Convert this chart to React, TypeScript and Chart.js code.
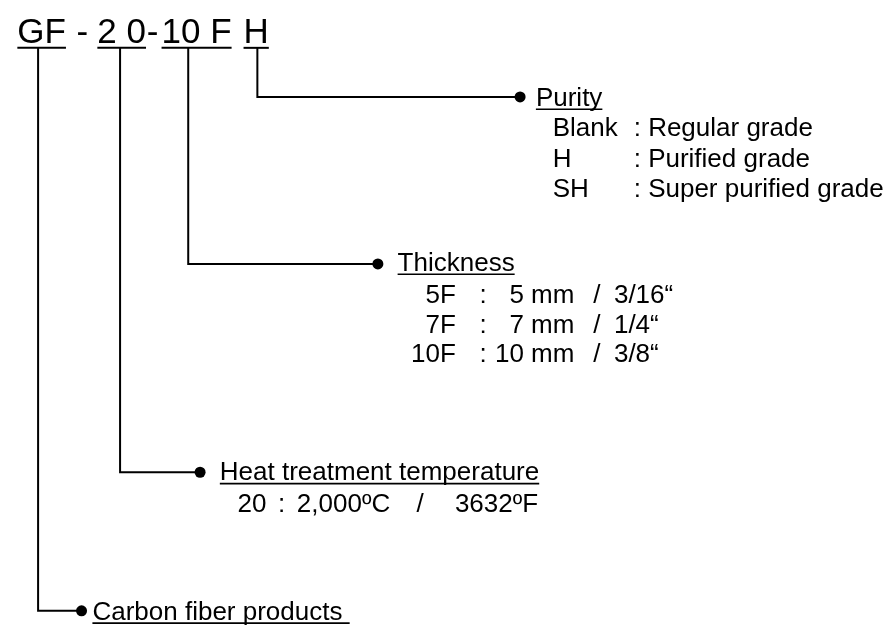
import React, { useEffect, useRef } from "react";
import { Chart, registerables } from "chart.js";

Chart.register(...registerables);

// ---- code string at the top ----
const codeText = ["GF", "-", "2 0", "-", "10 F", "H"];
const codeX = [12, 72, 93, 143, 158, 241];
const codeUnderlined = [true, false, true, false, true, true];
const codeBaseline = 38;
const stemTopY = 43;

// ---- branches (stem from code segment, elbow, dot, title) ----
const branchTitles = ["Purity", "Thickness", "Heat treatment temperature", "Carbon fiber products "];
const branchStemX = [255, 185, 116, 33];
const branchY = [93, 263, 475, 616];
const branchDotX = [521, 377, 197, 77];
const branchTextX = [537, 397, 217, 88];
const branchTextBaseline = [102, 270, 483, 625];

// ---- purity detail ----
const purityCodes = ["Blank", "H", "SH"];
const purityNames = [": Regular grade", ": Purified grade", ": Super purified grade"];
const purityBaselines = [133, 164, 195];

// ---- thickness detail ----
const thicknessCodes = ["5F", "7F", "10F"];
const thicknessMm = ["5 mm", "7 mm", "10 mm"];
const thicknessInch = ["3/16\u201C", "1/4\u201C", "3/8\u201C"];
const thicknessBaselines = [303, 333, 363];

// ---- heat treatment detail ----
const heatCodes = ["20"];
const heatCelsius = ["2,000\u00BAC"];
const heatFahrenheit = ["3632\u00BAF"];
const heatBaselines = [515];

const FONT = "'Liberation Sans', Arial, Helvetica, sans-serif";

type Txt = { t: string; x: number; y: number; size: number; u?: boolean; align?: CanvasTextAlign };

function buildTexts(): Txt[] {
  const out: Txt[] = [];
  codeText.forEach((t, i) => out.push({ t, x: codeX[i], y: codeBaseline, size: 35, u: codeUnderlined[i] }));
  branchTitles.forEach((t, i) =>
    out.push({ t, x: branchTextX[i], y: branchTextBaseline[i], size: 26, u: true })
  );
  purityCodes.forEach((t, i) => {
    out.push({ t, x: 554, y: purityBaselines[i], size: 26 });
    out.push({ t: purityNames[i], x: 636, y: purityBaselines[i], size: 26 });
  });
  thicknessCodes.forEach((t, i) => {
    out.push({ t, x: 456, y: thicknessBaselines[i], size: 26, align: "right" });
    out.push({ t: ":", x: 480, y: thicknessBaselines[i], size: 26 });
    out.push({ t: thicknessMm[i], x: 576, y: thicknessBaselines[i], size: 26, align: "right" });
    out.push({ t: "/", x: 595, y: thicknessBaselines[i], size: 26 });
    out.push({ t: thicknessInch[i], x: 616, y: thicknessBaselines[i], size: 26 });
  });
  heatCodes.forEach((t, i) => {
    out.push({ t, x: 235, y: heatBaselines[i], size: 26 });
    out.push({ t: ":", x: 276, y: heatBaselines[i], size: 26 });
    out.push({ t: heatCelsius[i], x: 295, y: heatBaselines[i], size: 26 });
    out.push({ t: "/", x: 416, y: heatBaselines[i], size: 26 });
    out.push({ t: heatFahrenheit[i], x: 455, y: heatBaselines[i], size: 26 });
  });
  return out;
}

const textPlugin = {
  id: "diagramText",
  afterDatasetsDraw(chart: any) {
    const ctx = chart.ctx as CanvasRenderingContext2D;
    const xs = chart.scales.x;
    const ys = chart.scales.y;
    ctx.save();
    ctx.fillStyle = "#000";
    ctx.strokeStyle = "#000";
    ctx.textBaseline = "alphabetic";
    for (const it of buildTexts()) {
      ctx.font = `${it.size}px ${FONT}`;
      ctx.textAlign = it.align || "left";
      const px = xs.getPixelForValue(it.x);
      const py = ys.getPixelForValue(it.y);
      ctx.fillText(it.t, px, py);
      if (it.u) {
        const w = ctx.measureText(it.t).width;
        const x0 = it.align === "right" ? px - w : px;
        const uy = py + (it.size > 30 ? 5 : 3.5);
        ctx.lineWidth = it.size > 30 ? 2 : 1.6;
        ctx.beginPath();
        ctx.moveTo(x0, uy);
        ctx.lineTo(x0 + w, uy);
        ctx.stroke();
      }
    }
    ctx.restore();
  },
};

export default function App() {
  const ref = useRef<HTMLCanvasElement | null>(null);
  useEffect(() => {
    if (!ref.current) return;
    const connectorSets = branchStemX.map((sx, i) => ({
      type: "scatter" as const,
      data: [
        { x: sx, y: stemTopY },
        { x: sx, y: branchY[i] },
        { x: branchDotX[i], y: branchY[i] },
      ],
      showLine: true,
      borderColor: "#000",
      borderWidth: 2,
      pointRadius: 0,
      fill: false,
      tension: 0,
      clip: false as any,
    }));
    const dotSet = {
      type: "scatter" as const,
      data: branchDotX.map((x, i) => ({ x, y: branchY[i] })),
      showLine: false,
      pointRadius: 5.5,
      pointBackgroundColor: "#000",
      pointBorderColor: "#000",
      pointBorderWidth: 0,
      clip: false as any,
    };
    const chart = new Chart(ref.current, {
      type: "scatter",
      data: { datasets: [...connectorSets, dotSet] as any },
      options: {
        animation: false,
        responsive: false,
        maintainAspectRatio: false,
        layout: { padding: 0 },
        events: [],
        plugins: { legend: { display: false }, tooltip: { enabled: false }, title: { display: false } },
        scales: {
          x: { type: "linear", min: 0, max: 895, display: false },
          y: { type: "linear", min: 0, max: 633, reverse: true, display: false },
        },
      },
      plugins: [textPlugin],
    });
    return () => chart.destroy();
  }, []);
  return (
    <div style={{ position: "absolute", left: 0, top: 0, width: 895, height: 633, background: "#fff" }}>
      <canvas ref={ref} width={895} height={633} style={{ width: 895, height: 633, display: "block" }} />
    </div>
  );
}
